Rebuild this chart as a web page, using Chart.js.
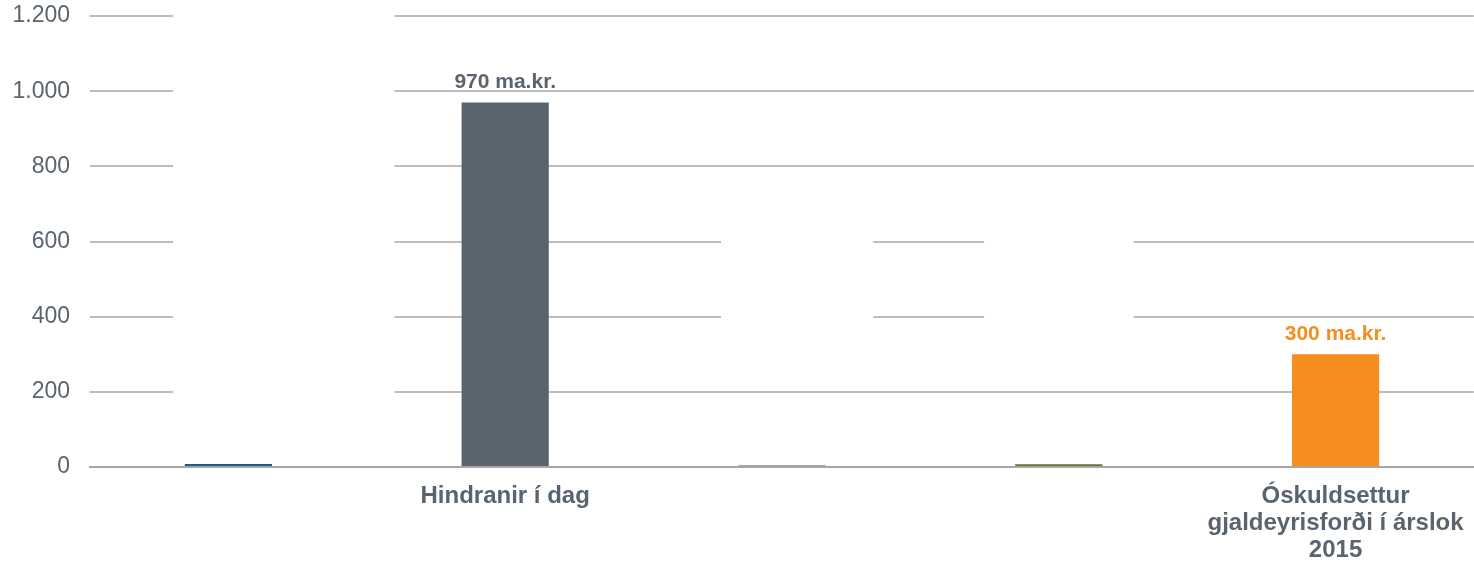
<!DOCTYPE html>
<html>
<head>
<meta charset="utf-8">
<script src="https://cdn.jsdelivr.net/npm/chart.js@4/dist/chart.umd.min.js"></script>
<style>
  html, body { margin: 0; padding: 0; background: #fff; overflow: hidden; }
  #wrap { width: 1474px; height: 561px; overflow: hidden; }
  #box { width: 1480px; height: 561px; position: relative; }
</style>
</head>
<body>
<div id="wrap"><div id="box"><canvas id="chart"></canvas></div></div>
<script>
// Data
const categories = ['', 'Hindranir í dag', '', '', ['Óskuldsettur', 'gjaldeyrisforði í árslok', '2015']];
const values = [8, 970, 5, 7, 300];
const barColors = ['#1b5e82', '#5a646e', '#a6a6a6', '#6b7234', '#f58d1f'];
const valueLabels = ['', '970 ma.kr.', '', '', '300 ma.kr.'];
const labelColors = ['#5a646e', '#5a646e', '#5a646e', '#5a646e', '#f58d1f'];
const yTicks = [0, 200, 400, 600, 800, 1000, 1200];

// white boxes that break the gridlines in the original (category index / value units)
const gridGaps = [
  { x0: -0.2, x1: 0.6, y0: 100, y1: 1250 },
  { x0: 1.78, x1: 2.33, y0: 300, y1: 700 },
  { x0: 2.73, x1: 3.27, y0: 300, y1: 700 }
];

const gapPlugin = {
  id: 'gridGaps',
  beforeDatasetsDraw(chart) {
    const { ctx, scales: { x, y } } = chart;
    ctx.save();
    ctx.fillStyle = '#fff';
    gridGaps.forEach(g => {
      const left = x.getPixelForValue(g.x0), right = x.getPixelForValue(g.x1);
      const top = Math.max(0, y.getPixelForValue(g.y1)), bottom = y.getPixelForValue(g.y0);
      ctx.fillRect(left, top, right - left, bottom - top);
    });
    ctx.restore();
  }
};

const valueLabelPlugin = {
  id: 'valueLabels',
  afterDatasetsDraw(chart) {
    const { ctx } = chart;
    const meta = chart.getDatasetMeta(0);
    ctx.save();
    ctx.font = 'bold 21px "Liberation Sans", Arial, sans-serif';
    ctx.textAlign = 'center';
    ctx.textBaseline = 'alphabetic';
    meta.data.forEach((bar, i) => {
      if (!valueLabels[i]) return;
      ctx.fillStyle = labelColors[i];
      ctx.fillText(valueLabels[i], bar.x, bar.y - 14);
    });
    ctx.restore();
  }
};

new Chart(document.getElementById('chart'), {
  type: 'bar',
  data: {
    labels: categories,
    datasets: [{
      data: values,
      backgroundColor: barColors,
      borderWidth: 0,
      barPercentage: 0.315,
      categoryPercentage: 1
    }]
  },
  options: {
    responsive: true,
    maintainAspectRatio: false,
    animation: false,
    layout: { padding: { left: 12, right: 4, top: 16, bottom: 0 } },
    plugins: { legend: { display: false }, tooltip: { enabled: false } },
    scales: {
      x: {
        grid: { display: false, drawTicks: false },
        border: { display: true, color: '#a6a6a6', width: 2 },
        afterFit: (axis) => { axis.height = 94; },
        ticks: {
          color: '#5a646e',
          font: { family: '"Liberation Sans", Arial, sans-serif', size: 24, weight: 'bold', lineHeight: 1.125 },
          padding: 16,
          maxRotation: 0,
          autoSkip: false
        }
      },
      y: {
        min: 0,
        max: 1200,
        afterBuildTicks: (axis) => { axis.ticks = yTicks.map(v => ({ value: v })); },
        afterFit: (axis) => { axis.width = 78; axis.paddingTop = 0; axis.paddingBottom = 0; },
        grid: { color: '#bdbdbd', lineWidth: 2, drawTicks: false },
        border: { display: false },
        ticks: {
          color: '#5a646e',
          font: { family: '"Liberation Sans", Arial, sans-serif', size: 23 },
          padding: 20,
          callback: (v) => v.toLocaleString('de-DE')
        }
      }
    }
  },
  plugins: [gapPlugin, valueLabelPlugin]
});
</script>
</body>
</html>
